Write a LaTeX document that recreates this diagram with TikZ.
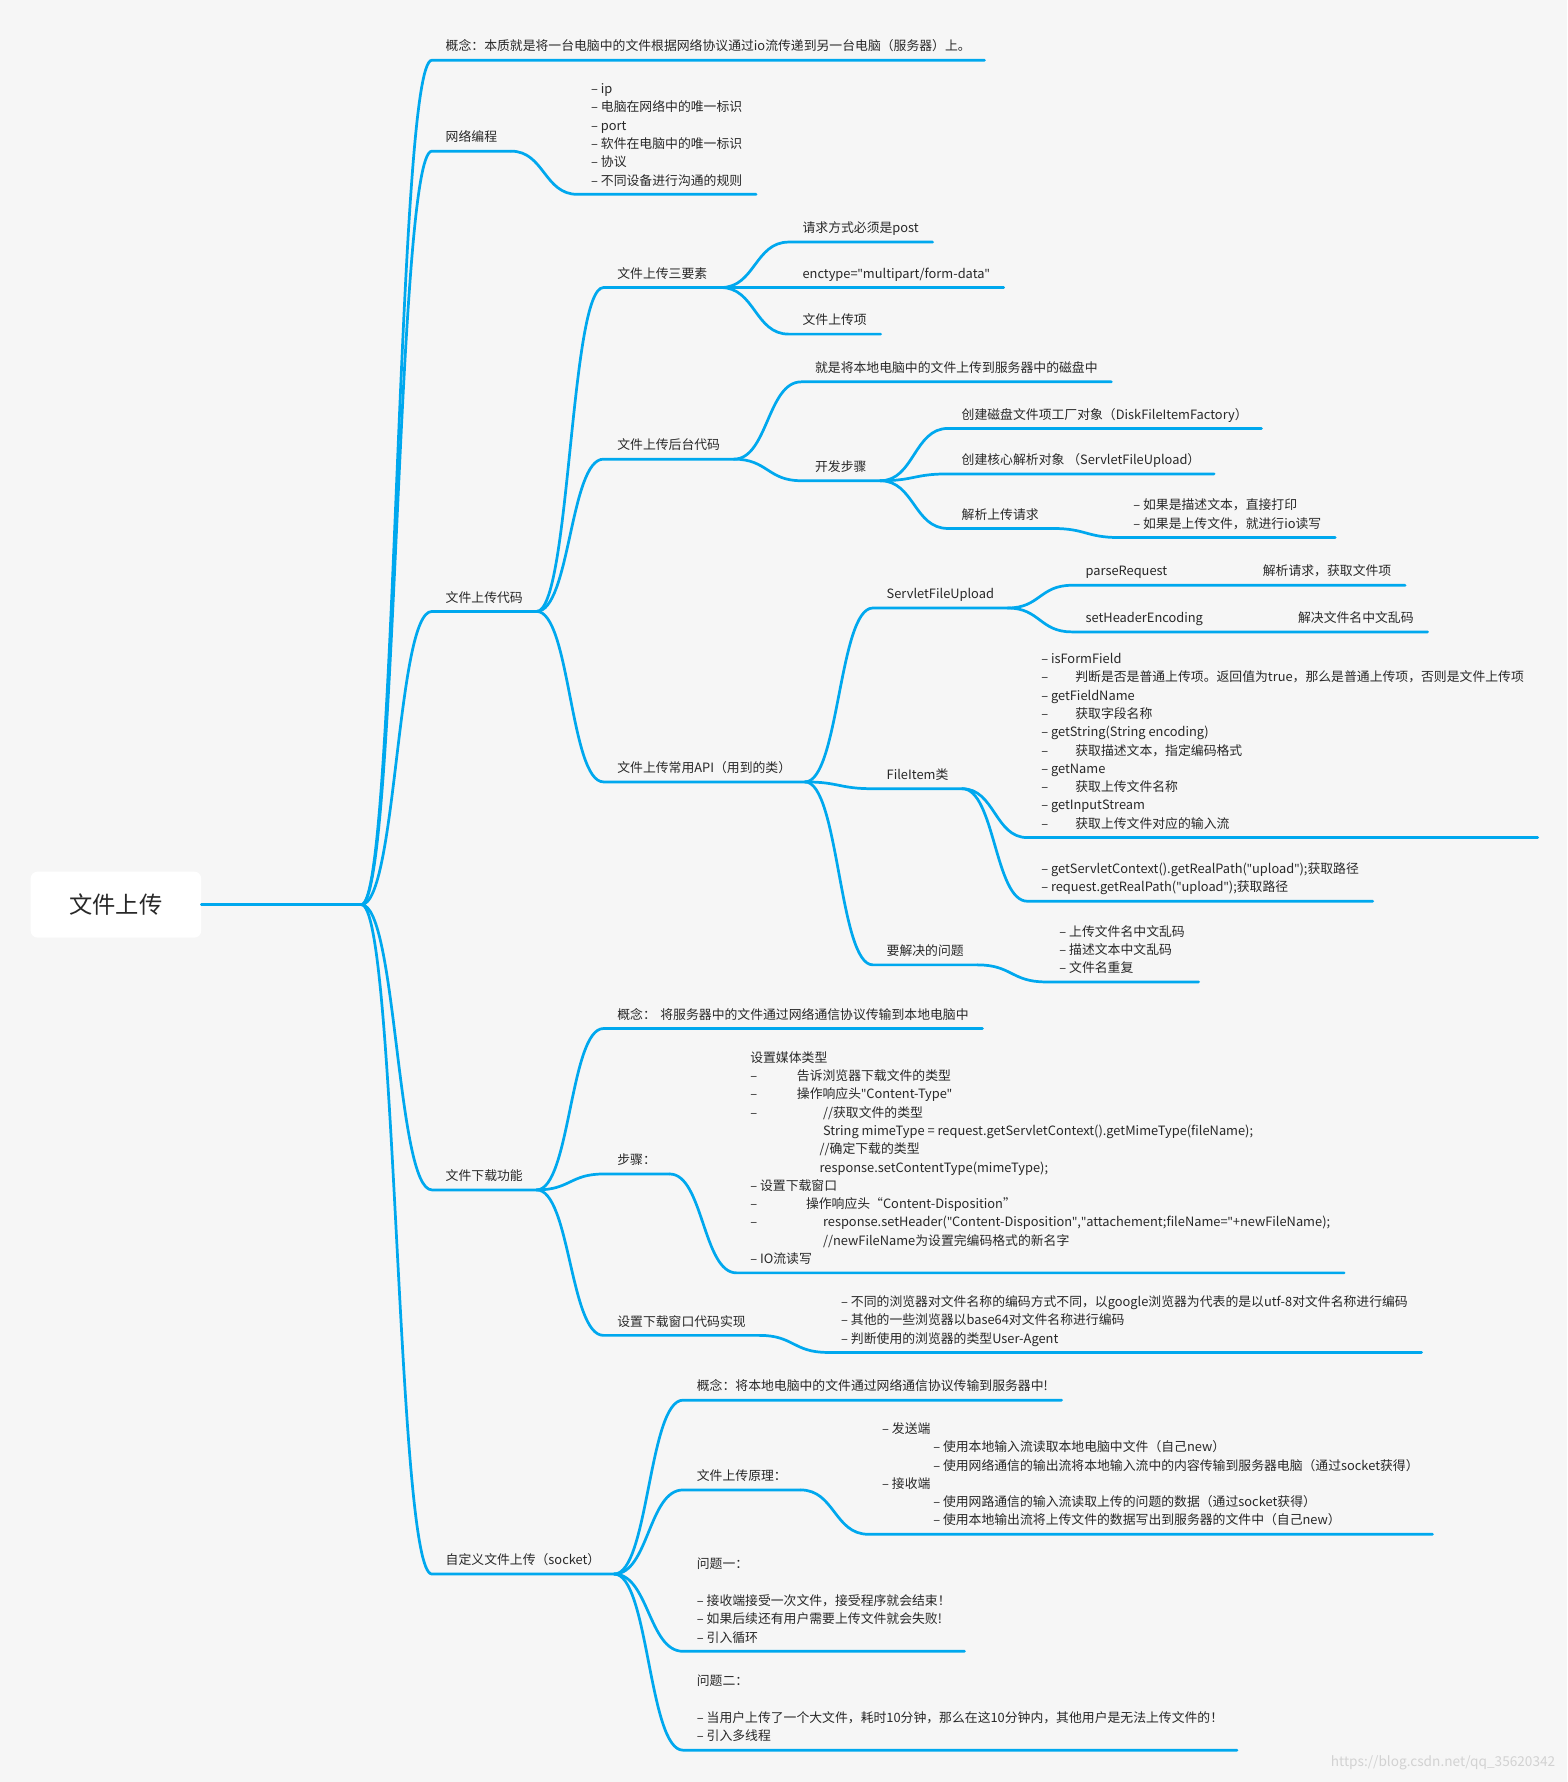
\documentclass[tikz,border=0pt]{standalone}
\usepackage{fontspec}
\setmainfont{Noto Sans CJK SC}[Ligatures=ResetAll]
\newfontfamily\quotefont{Noto Sans}[Ligatures=ResetAll]
\usepackage{xcolor}
\usetikzlibrary{calc}
\definecolor{linkblue}{RGB}{0,168,238}
\definecolor{bggray}{RGB}{246,246,246}
\definecolor{inkgray}{RGB}{40,40,40}
\newcommand{\dashind}[1]{\makebox[#1pt][l]{–}}
\newcommand{\dq}{{\quotefont\symbol{34}}}

\begin{document}
\begin{tikzpicture}[x=1pt, y=-1pt,
    topic/.style={anchor=south west, inner xsep=12pt, inner ysep=8pt, text depth=0pt, align=left, text=inkgray, font=\fontsize{11.3}{16.1}\selectfont},
    rootbox/.style={fill=white, rounded corners=6pt, minimum width=150pt, minimum height=58pt, text=inkgray, font=\fontsize{20.5}{24}\selectfont},
    link/.style={draw=linkblue, line width=2.4pt, line cap=round, line join=round},
    curvy/.style={to path={let \p1=(\tikztostart), \p2=(\tikztotarget), \p3=($(\p1)!0.5!(\p2)$) in .. controls (\x3,\y1) and (\x3,\y2) .. (\p2)}},
]
    \fill[bggray, use as bounding box] (0,0) rectangle (1379,1568);

    % Root
    \node[rootbox] (root) at (102,796) {文件上传};
    \coordinate (hub) at (318,796);

    % Main branches
    \node[topic] (concept) at (380,53) {概念：本质就是将一台电脑中的文件根据网络协议通过io流传递到另一台电脑（服务器）上。};
    \node[topic] (net) at (380,133) {网络编程};
    \node[topic] (upcode) at (380,538) {文件上传代码};
    \node[topic] (download) at (380,1047) {文件下载功能};
    \node[topic] (socket) at (380,1385) {自定义文件上传（socket）};

    % 网络编程
    \node[topic] (netlist) at (508,171) {– ip\\– 电脑在网络中的唯一标识\\– port\\– 软件在电脑中的唯一标识\\– 协议\\– 不同设备进行沟通的规则};

    % 文件上传代码
    \node[topic] (three) at (531,253) {文件上传三要素};
    \node[topic] (post) at (694,213) {请求方式必须是post};
    \node[topic] (enctype) at (694,253) {enctype=\dq multipart/form-data\dq};
    \node[topic] (uploaditem) at (694,294) {文件上传项};

    \node[topic] (backend) at (531,404) {文件上传后台代码};
    \node[topic] (meaning) at (705,336) {就是将本地电脑中的文件上传到服务器中的磁盘中};
    \node[topic] (devsteps) at (705,423) {开发步骤};
    \node[topic] (factory) at (834,377) {创建磁盘文件项工厂对象（DiskFileItemFactory）};
    \node[topic] (parser) at (834,417) {创建核心解析对象 （ServletFileUpload）};
    \node[topic] (parse) at (834,465) {解析上传请求};
    \node[topic] (parselist) at (985,473) {– 如果是描述文本，直接打印\\– 如果是上传文件，就进行io读写};

    \node[topic] (api) at (531,688) {文件上传常用API（用到的类）};
    \node[topic] (sfu) at (768,535) {ServletFileUpload};
    \node[topic] (parsereq) at (943,515) {\makebox[156pt][l]{parseRequest}解析请求，获取文件项};
    \node[topic] (headerenc) at (943,556) {\makebox[187pt][l]{setHeaderEncoding}解决文件名中文乱码};
    \node[topic] (itemcls) at (768,694) {FileItem类};
    \node[topic] (itemlist) at (904,737) {– isFormField\\
        \dashind{30}判断是否是普通上传项。返回值为true，那么是普通上传项，否则是文件上传项\\
        – getFieldName\\
        \dashind{30}获取字段名称\\
        – getString(String encoding)\\
        \dashind{30}获取描述文本，指定编码格式\\
        – getName\\
        \dashind{30}获取上传文件名称\\
        – getInputStream\\
        \dashind{30}获取上传文件对应的输入流};
    \node[topic] (pathlist) at (904,793) {– getServletContext().getRealPath(\dq upload\dq);获取路径\\– request.getRealPath(\dq upload\dq);获取路径};
    \node[topic] (issues) at (768,849) {要解决的问题};
    \node[topic] (issuelist) at (920,864) {– 上传文件名中文乱码\\– 描述文本中文乱码\\– 文件名重复};

    % 文件下载功能
    \node[topic] (dconcept) at (531,905) {概念：\hspace{4pt}将服务器中的文件通过网络通信协议传输到本地电脑中};
    \node[topic] (dsteps) at (531,1033) {步骤：};
    \node[topic] (dsteplist) at (648,1120) {设置媒体类型\\
        \dashind{41}告诉浏览器下载文件的类型\\
        \dashind{41}操作响应头\dq Content-Type\dq\\
        \dashind{64}//获取文件的类型\\
        \hspace*{64pt}String mimeType = request.getServletContext().getMimeType(fileName);\\
        \hspace*{61pt}//确定下载的类型\\
        \hspace*{61pt}response.setContentType(mimeType);\\
        – 设置下载窗口\\
        \dashind{49}操作响应头“Content-Disposition”\\
        \dashind{64}response.setHeader(\dq Content-Disposition\dq,\dq attachement;fileName=\dq+newFileName);\\
        \hspace*{64pt}//newFileName为设置完编码格式的新名字\\
        – IO流读写};
    \node[topic] (dwindow) at (531,1175) {设置下载窗口代码实现};
    \node[topic] (dwinlist) at (728,1190) {– 不同的浏览器对文件名称的编码方式不同，以google浏览器为代表的是以utf-8对文件名称进行编码\\– 其他的一些浏览器以base64对文件名称进行编码\\– 判断使用的浏览器的类型User-Agent};

    % 自定义文件上传
    \node[topic] (sconcept) at (601,1232) {概念：将本地电脑中的文件通过网络通信协议传输到服务器中!};
    \node[topic] (principle) at (601,1311) {文件上传原理：};
    \node[topic] (principlelist) at (764,1350) {– 发送端\\
        \hspace*{45pt}– 使用本地输入流读取本地电脑中文件（自己new）\\
        \hspace*{45pt}– 使用网络通信的输出流将本地输入流中的内容传输到服务器电脑（通过socket获得）\\
        – 接收端\\
        \hspace*{45pt}– 使用网路通信的输入流读取上传的问题的数据（通过socket获得）\\
        \hspace*{45pt}– 使用本地输出流将上传文件的数据写出到服务器的文件中（自己new）};
    \node[topic] (q1) at (601,1453) {问题一：\\[16.1pt]– 接收端接受一次文件，接受程序就会结束！\\– 如果后续还有用户需要上传文件就会失败!\\– 引入循环};
    \node[topic] (q2) at (601,1540) {问题二：\\[16.1pt]– 当用户上传了一个大文件，耗时10分钟，那么在这10分钟内，其他用户是无法上传文件的！\\– 引入多线程};

    \node[anchor=east, text=gray!35, font=\fontsize{12}{14}\selectfont] (mark) at (1372,1551) {https://blog.csdn.net/qq\_35620342};

    % Connectors
    \draw[link] (root.east) -- (hub);
    \draw[link] (hub) to[curvy] (concept.south west) -- (concept.south east);
    \draw[link] (hub) to[curvy] (net.south west) -- (net.south east);
    \draw[link] (hub) to[curvy] (upcode.south west) -- (upcode.south east);
    \draw[link] (hub) to[curvy] (download.south west) -- (download.south east);
    \draw[link] (hub) to[curvy] (socket.south west) -- (socket.south east);

    \draw[link] (net.south east) to[curvy] (netlist.south west) -- (netlist.south east);

    \draw[link] (upcode.south east) to[curvy] (three.south west) -- (three.south east);
    \draw[link] (upcode.south east) to[curvy] (backend.south west) -- (backend.south east);
    \draw[link] (upcode.south east) to[curvy] (api.south west) -- (api.south east);
    \draw[link] (three.south east) to[curvy] (post.south west) -- (post.south east);
    \draw[link] (three.south east) to[curvy] (enctype.south west) -- (enctype.south east);
    \draw[link] (three.south east) to[curvy] (uploaditem.south west) -- (uploaditem.south east);
    \draw[link] (backend.south east) to[curvy] (meaning.south west) -- (meaning.south east);
    \draw[link] (backend.south east) to[curvy] (devsteps.south west) -- (devsteps.south east);
    \draw[link] (devsteps.south east) to[curvy] (factory.south west) -- (factory.south east);
    \draw[link] (devsteps.south east) to[curvy] (parser.south west) -- (parser.south east);
    \draw[link] (devsteps.south east) to[curvy] (parse.south west) -- (parse.south east);
    \draw[link] (parse.south east) to[curvy] (parselist.south west) -- (parselist.south east);
    \draw[link] (api.south east) to[curvy] (sfu.south west) -- (sfu.south east);
    \draw[link] (api.south east) to[curvy] (itemcls.south west) -- (itemcls.south east);
    \draw[link] (api.south east) to[curvy] (issues.south west) -- (issues.south east);
    \draw[link] (sfu.south east) to[curvy] (parsereq.south west) -- (parsereq.south east);
    \draw[link] (sfu.south east) to[curvy] (headerenc.south west) -- (headerenc.south east);
    \draw[link] (itemcls.south east) to[curvy] (itemlist.south west) -- (itemlist.south east);
    \draw[link] (itemcls.south east) to[curvy] (pathlist.south west) -- (pathlist.south east);
    \draw[link] (issues.south east) to[curvy] (issuelist.south west) -- (issuelist.south east);

    \draw[link] (download.south east) to[curvy] (dconcept.south west) -- (dconcept.south east);
    \draw[link] (download.south east) to[curvy] (dsteps.south west) -- (dsteps.south east);
    \draw[link] (download.south east) to[curvy] (dwindow.south west) -- (dwindow.south east);
    \draw[link] (dsteps.south east) to[curvy] (dsteplist.south west) -- (dsteplist.south east);
    \draw[link] (dwindow.south east) to[curvy] (dwinlist.south west) -- (dwinlist.south east);

    \draw[link] (socket.south east) to[curvy] (sconcept.south west) -- (sconcept.south east);
    \draw[link] (socket.south east) to[curvy] (principle.south west) -- (principle.south east);
    \draw[link] (socket.south east) to[curvy] (q1.south west) -- (q1.south east);
    \draw[link] (socket.south east) to[curvy] (q2.south west) -- (q2.south east);
    \draw[link] (principle.south east) to[curvy] (principlelist.south west) -- (principlelist.south east);
\end{tikzpicture}
\end{document}
